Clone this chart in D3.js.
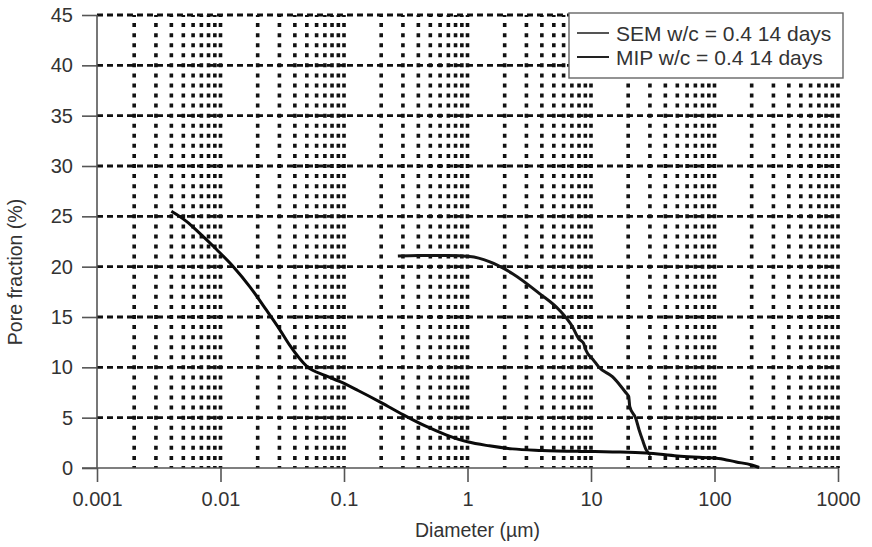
<!DOCTYPE html>
<html>
<head>
    <meta charset="UTF-8">
    <title>Pore fraction vs diameter</title>
    <style>
        body { margin: 0; background: #fff; }
        text { font-family: "Liberation Sans", Arial, sans-serif; fill: #333; }
    </style>
</head>
<body>
    <script src="https://cdn.jsdelivr.net/npm/d3@7/dist/d3.min.js"></script>
    <script type="text/javascript">
        // canvas
        var width = 872;
        var height = 547;
        var margin = {left: 97, right: 34, top: 15, bottom: 79};

        // axis ranges and tick labels
        var xDomain = [0.001, 1000];
        var yDomain = [0, 45];
        var xTicks = [0.001, 0.01, 0.1, 1, 10, 100, 1000];
        var xTickLabels = ["0.001", "0.01", "0.1", "1", "10", "100", "1000"];
        var yTicks = [0, 5, 10, 15, 20, 25, 30, 35, 40, 45];

        // series: diameter (um) / pore fraction (%)
        var seriesNames = ["SEM w/c = 0.4 14 days", "MIP w/c = 0.4 14 days"];
        var semDiameter = [0.273, 0.4, 0.7, 1.04, 1.5, 2.32, 3.81, 5.53, 7.1, 8.0, 8.4, 8.7, 9.1, 10.5, 11.6,
                           14.9, 17.5, 19.1, 20.2, 20.6, 23.1, 24.5, 26.1, 28.0, 30.5];
        var semFraction = [21.05, 21.1, 21.1, 21.0, 20.5, 19.3, 17.35, 15.7, 14.0, 12.8, 12.6, 12.4, 11.7, 10.7, 10.0,
                           9.07, 8.1, 7.5, 7.1, 6.1, 4.9, 3.8, 2.8, 1.8, 1.3];
        var mipDiameter = [0.004, 0.0053, 0.0068, 0.0093, 0.0127, 0.0173, 0.0235, 0.03, 0.0363, 0.05, 0.07, 0.092,
                           0.13, 0.2, 0.3, 0.45, 0.67, 1.0, 1.5, 2.3, 4, 8, 15, 28, 50, 80, 108, 150, 200, 230];
        var mipFraction = [25.5, 24.5, 23.3, 21.7, 20.0, 18.0, 15.7, 13.8, 12.2, 10.1, 9.2, 8.6,
                           7.7, 6.5, 5.3, 4.2, 3.3, 2.6, 2.2, 1.9, 1.75, 1.65, 1.6, 1.5, 1.2, 1.05, 0.95, 0.6, 0.3, 0.05];

        var svg = d3.select("body").append("svg")
            .attr("width", width)
            .attr("height", height);

        var x = d3.scaleLog()
            .domain(xDomain)
            .range([margin.left, width - margin.right]);
        var y = d3.scaleLinear()
            .domain(yDomain)
            .range([height - margin.bottom, margin.top]);

        // vertical grid: 1..9 in every decade, dotted
        var unit = y(0) - y(1);
        var dot = 4;
        var xGrid = x.ticks().filter(function(d){ return d > xDomain[0]; });
        svg.append("g").selectAll("line")
            .data(xGrid)
            .enter().append("line")
            .attr("x1", function(d){ return x(d); })
            .attr("x2", function(d){ return x(d); })
            .attr("y1", y(0))
            .attr("y2", y(45))
            .attr("stroke", "#111")
            .attr("stroke-width", 3.6)
            .attr("stroke-dasharray", dot + "," + (unit - dot))
            .attr("stroke-dashoffset", dot / 2);

        // horizontal grid, dashed
        svg.append("g").selectAll("line")
            .data(yTicks.filter(function(d){ return d > 0; }))
            .enter().append("line")
            .attr("x1", x(xDomain[0]))
            .attr("x2", x(xDomain[1]))
            .attr("y1", function(d){ return y(d); })
            .attr("y2", function(d){ return y(d); })
            .attr("stroke", "#111")
            .attr("stroke-width", 2.8)
            .attr("stroke-dasharray", "6,4");

        // axes
        var xAxis = d3.axisBottom(x)
            .tickValues(xTicks)
            .tickFormat(function(d, i){ return xTickLabels[i]; })
            .tickSize(14)
            .tickPadding(10);
        var gx = svg.append("g")
            .attr("transform", "translate(0," + y(0) + ")")
            .call(xAxis);
        gx.select(".domain").attr("d", "M" + (x(xDomain[0]) - 15) + ",0H" + x(xDomain[1]));

        var yAxis = d3.axisLeft(y)
            .tickValues(yTicks)
            .tickSize(15)
            .tickPadding(9);
        var gy = svg.append("g")
            .attr("transform", "translate(" + x(xDomain[0]) + ",0)")
            .call(yAxis);
        gy.select(".domain").attr("d", "M0," + y(0) + "V" + y(45));

        svg.selectAll(".domain, .tick line")
            .attr("stroke", "#555")
            .attr("stroke-width", 1.6);
        svg.selectAll(".tick text")
            .attr("font-size", 20)
            .attr("fill", "#333");

        // axis titles
        svg.append("text")
            .attr("x", (x(xDomain[0]) + x(xDomain[1])) / 2 + 10)
            .attr("y", 537)
            .attr("text-anchor", "middle")
            .attr("font-size", 19.5)
            .text("Diameter (\u00b5m)");
        svg.append("text")
            .attr("transform", "translate(22,272) rotate(-90)")
            .attr("text-anchor", "middle")
            .attr("font-size", 19.5)
            .text("Pore fraction (%)");

        // curves
        var line = d3.line()
            .x(function(d){ return x(d[0]); })
            .y(function(d){ return y(d[1]); })
            .curve(d3.curveMonotoneX);
        var series = [
            {name: seriesNames[0], data: d3.zip(semDiameter, semFraction), color: "#151515"},
            {name: seriesNames[1], data: d3.zip(mipDiameter, mipFraction), color: "#0a0a0a"}
        ];
        svg.append("g").selectAll("path")
            .data(series)
            .enter().append("path")
            .attr("d", function(d){ return line(d.data); })
            .attr("fill", "none")
            .attr("stroke", function(d){ return d.color; })
            .attr("stroke-width", 3)
            .attr("stroke-linejoin", "round");

        // legend
        var legend = svg.append("g").attr("transform", "translate(569,13)");
        legend.append("rect")
            .attr("width", 274)
            .attr("height", 65)
            .attr("fill", "#fff")
            .attr("stroke", "#666")
            .attr("stroke-width", 1.4);
        var legendColors = ["#555", "#222"];
        series.forEach(function(s, i){
            legend.append("line")
                .attr("x1", 8).attr("x2", 40)
                .attr("y1", 20 + i * 24).attr("y2", 20 + i * 24)
                .attr("stroke", legendColors[i])
                .attr("stroke-width", 2);
            legend.append("text")
                .attr("x", 47)
                .attr("y", 28 + i * 24)
                .attr("font-size", 21)
                .text(s.name);
        });
    </script>
</body>
</html>
